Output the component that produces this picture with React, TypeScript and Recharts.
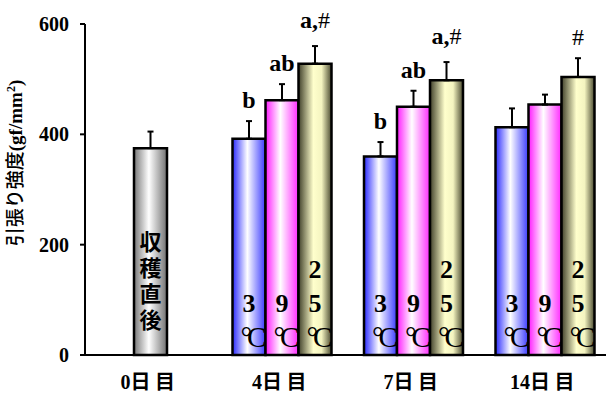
import React from "react";
import {
  BarChart,
  Bar,
  XAxis,
  YAxis,
  ErrorBar,
  LabelList,
  Cell,
} from "recharts";

// storage days
const days = ["0日目", "4日目", "7日目", "14日目"];

// tensile strength (gf/mm²), means and SD
const harvest = [375, null, null, null];
const harvestSd = [30, null, null, null];
const temp3 = [null, 392, 360, 413];
const temp3Sd = [null, 32, 26, 34];
const temp9 = [null, 462, 450, 454];
const temp9Sd = [null, 29, 29, 18];
const temp25 = [null, 528, 498, 504];
const temp25Sd = [null, 32, 33, 34];

// significance marks
const marks3 = [null, "b", "b", null];
const marks9 = [null, "ab", "ab", null];
const marks25 = [null, "a,#", "a,#", "#"];

const yTicks = [0, 200, 400, 600];

// middle slot holds the harvest bar on day 0 and the 9℃ bar otherwise
const midValues = days.map((_, i) => harvest[i] ?? temp9[i]);
const midSds = days.map((_, i) => (harvestSd[i] ?? temp9Sd[i]) ?? 0);

const data = days.map((day, i) => ({
  day,
  t3: temp3[i],
  t3Err: [0, temp3Sd[i] ?? 0],
  mid: midValues[i],
  midErr: [0, midSds[i]],
  t25: temp25[i],
  t25Err: [0, temp25Sd[i] ?? 0],
}));

const SERIF = "'Liberation Serif', 'Times New Roman', serif";
const GOTHIC = "'Noto Sans CJK JP', sans-serif";

// LabelList skips empty entries, so look up rows among the drawn ones
function drawnRows(values, sds, marks) {
  const rows = [];
  values.forEach((v, i) => {
    if (v != null) rows.push({ v, sd: sds[i] ?? 0, mark: marks[i] });
  });
  return rows;
}

function makeMark(values, sds, marks) {
  const rows = drawnRows(values, sds, marks);
  return (props) => {
    const { x, y, width, height, index } = props;
    const row = rows[index];
    if (!row || !row.mark || !height) return null;
    const errTop = y - (row.sd * height) / row.v;
    const mark = row.mark;
    const base = errTop - (mark.includes(",") ? 18 : 13);
    const cx = x + width / 2;
    if (mark === "#") {
      return (
        <text x={cx} y={base} textAnchor="middle" fontFamily={SERIF} fontSize={24} fill="#000">
          #
        </text>
      );
    }
    const parts = mark.split(",");
    return (
      <text x={cx} y={base} textAnchor="middle" fontFamily={SERIF} fontSize={24} fill="#000">
        <tspan fontWeight="bold">{parts[0]}</tspan>
        {parts.length > 1 && <tspan fontWeight="bold">,</tspan>}
        {parts.length > 1 && <tspan>{parts[1]}</tspan>}
      </text>
    );
  };
}

// temperature written downwards inside the bar: digits then °C
function tempLabel(digits) {
  return (props) => {
    const { x, y, width, height, value } = props;
    if (!value) return null;
    const cx = x + width / 2;
    const bottom = y + height;
    const rows = digits.split("");
    return (
      <g>
        <text textAnchor="middle" fontFamily={SERIF} fontWeight="bold" fontSize={26} fill="#000">
          {rows.map((d, k) => (
            <tspan key={k} x={cx} y={bottom - 43 - (rows.length - 1 - k) * 34}>
              {d}
            </tspan>
          ))}
        </text>
        <text
          x={cx + 2}
          y={bottom - 8}
          textAnchor="middle"
          fontFamily={SERIF}
          fontSize={29}
          letterSpacing={-5}
          fill="#000"
        >
          °C
        </text>
      </g>
    );
  };
}

const midLabel = (props) => {
  const { x, y, width, height, index } = props;
  const cx = x + width / 2;
  const bottom = y + height;
  if (index === 0) {
    return (
      <text
        x={cx}
        y={bottom - 124}
        style={{ writingMode: "vertical-rl" }}
        fontFamily={GOTHIC}
        fontWeight="bold"
        fontSize={22}
        letterSpacing={4}
        fill="#000"
      >
        収穫直後
      </text>
    );
  }
  return tempLabel("9")(props);
};

const DayTick = (props) => {
  const { x, y, payload } = props;
  const m = String(payload.value).match(/^(\d+)(.*)$/);
  const num = m ? m[1] : "";
  const rest = m ? m[2].split("").join(" ") : payload.value;
  return (
    <text x={x - 3} y={y + 26} textAnchor="middle" fill="#000" fontSize={20} fontWeight="bold">
      <tspan fontFamily={SERIF}>{num}</tspan>
      <tspan fontFamily={GOTHIC}>{rest}</tspan>
    </text>
  );
};

const YTitle = () => (
  <text
    transform="translate(22,163) rotate(-90)"
    textAnchor="middle"
    fill="#000"
    fontSize={19}
  >
    <tspan fontFamily={GOTHIC} fontWeight="500">引張り強度</tspan>
    <tspan fontFamily={SERIF} fontWeight="bold">(gf/mm</tspan>
    <tspan fontFamily={SERIF} fontWeight="bold" fontSize={12} dy={-7}>2</tspan>
    <tspan fontFamily={SERIF} fontWeight="bold" dy={7}>)</tspan>
  </text>
);

export default function App() {
  return (
    <div style={{ position: "absolute", left: 0, top: 0, width: 606, height: 401, overflow: "hidden", background: "#fff" }}>
      <BarChart
        width={612}
        height={401}
        data={data}
        margin={{ top: 24, right: 1, left: 0, bottom: 0 }}
        barGap={0}
        barCategoryGap={0}
      >
        <defs>
          <linearGradient id="gBlue" x1="0" y1="0" x2="1" y2="0">
            <stop offset="0%" stopColor="#2a2aff" />
            <stop offset="45%" stopColor="#ffffff" />
            <stop offset="100%" stopColor="#3a3aff" />
          </linearGradient>
          <linearGradient id="gPink" x1="0" y1="0" x2="1" y2="0">
            <stop offset="0%" stopColor="#ff1aff" />
            <stop offset="45%" stopColor="#ffffff" />
            <stop offset="100%" stopColor="#ff2aff" />
          </linearGradient>
          <linearGradient id="gOlive" x1="0" y1="0" x2="1" y2="0">
            <stop offset="0%" stopColor="#40402a" />
            <stop offset="45%" stopColor="#ffffcc" />
            <stop offset="70%" stopColor="#f4f4c0" />
            <stop offset="100%" stopColor="#4a4a30" />
          </linearGradient>
          <linearGradient id="gGray" x1="0" y1="0" x2="1" y2="0">
            <stop offset="0%" stopColor="#777777" />
            <stop offset="45%" stopColor="#ffffff" />
            <stop offset="100%" stopColor="#707070" />
          </linearGradient>
        </defs>
        <XAxis
          dataKey="day"
          height={46}
          tickLine={false}
          axisLine={{ stroke: "#000", strokeWidth: 2 }}
          tick={<DayTick />}
          interval={0}
        />
        <YAxis
          width={85}
          domain={[0, 600]}
          ticks={yTicks}
          tickSize={5}
          tickMargin={11}
          axisLine={{ stroke: "#000", strokeWidth: 2 }}
          tickLine={{ stroke: "#000", strokeWidth: 2 }}
          tick={{ fill: "#000", fontFamily: SERIF, fontWeight: "bold", fontSize: 20 }}
          label={<YTitle />}
        />
        <Bar dataKey="t3" barSize={33} fill="url(#gBlue)" stroke="#000" strokeWidth={2.5} isAnimationActive={false}>
          <ErrorBar dataKey="t3Err" width={3} stroke="#000" strokeWidth={2} direction="y" />
          <LabelList dataKey="t3" content={tempLabel("3")} />
          <LabelList dataKey="t3" content={makeMark(temp3, temp3Sd, marks3)} />
        </Bar>
        <Bar dataKey="mid" barSize={33} stroke="#000" strokeWidth={2.5} isAnimationActive={false}>
          {data.map((d, i) => (
            <Cell key={d.day} fill={harvest[i] != null ? "url(#gGray)" : "url(#gPink)"} />
          ))}
          <ErrorBar dataKey="midErr" width={3} stroke="#000" strokeWidth={2} direction="y" />
          <LabelList dataKey="mid" content={midLabel} />
          <LabelList dataKey="mid" content={makeMark(midValues, midSds, marks9)} />
        </Bar>
        <Bar dataKey="t25" barSize={33} fill="url(#gOlive)" stroke="#000" strokeWidth={2.5} isAnimationActive={false}>
          <ErrorBar dataKey="t25Err" width={3} stroke="#000" strokeWidth={2} direction="y" />
          <LabelList dataKey="t25" content={tempLabel("25")} />
          <LabelList dataKey="t25" content={makeMark(temp25, temp25Sd, marks25)} />
        </Bar>
      </BarChart>
    </div>
  );
}
